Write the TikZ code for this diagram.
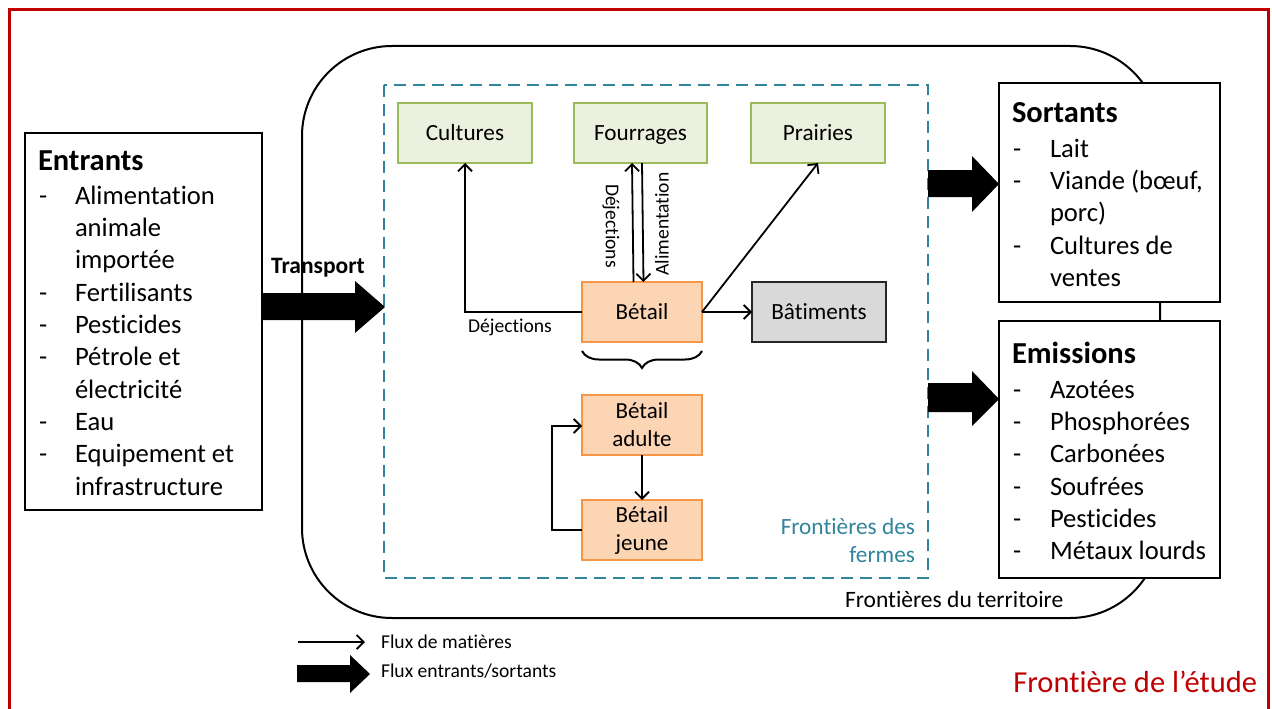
\documentclass[tikz,border=0pt]{standalone}
\usepackage{fontspec}
\setmainfont{Carlito}[Ligatures=NoCommon]
\usetikzlibrary{arrows.meta,decorations.pathreplacing}
\definecolor{framered}{HTML}{C00000}
\definecolor{farmteal}{HTML}{31849B}
\definecolor{greenfill}{HTML}{EBF1DE}
\definecolor{greenline}{HTML}{9BBB59}
\definecolor{orangefill}{HTML}{FCD5B5}
\definecolor{orangeline}{HTML}{F79646}
\definecolor{grayfill}{HTML}{D9D9D9}
\begin{document}
\begin{tikzpicture}[x=1pt,y=-1pt,
  every node/.style={inner sep=0pt, outer sep=0pt},
  oneline/.style={text height=14.6pt, text depth=0pt},
  cropbox/.style={draw=greenline, fill=greenfill, line width=1.5pt, minimum width=134pt, minimum height=60pt, oneline, font=\fontsize{23.2}{28}\selectfont},
  cattlebox/.style={draw=orangeline, fill=orangefill, line width=1.5pt, minimum width=120pt, minimum height=60pt, align=center, font=\fontsize{23}{28}\selectfont},
  bldbox/.style={draw=black!85, fill=grayfill, line width=1.5pt, minimum width=134pt, minimum height=60pt, oneline, font=\fontsize{23.2}{28}\selectfont},
  listbox/.style={draw=black, fill=white, line width=2.8pt},
  listtitle/.style={anchor=base west, font=\fontsize{30.5}{34}\selectfont\bfseries},
  listitem/.style={anchor=base west, font=\fontsize{26.6}{32}\selectfont},
  smalllabel/.style={font=\fontsize{19.6}{23}\selectfont},
  flow/.style={line width=1.8pt, -{Straight Barb[length=7pt,width=14pt,line width=1.8pt]}},
  bigarrow/.style={fill=black, draw=none}
]
\useasboundingbox (0,0) rectangle (1272,709);
% study frame
\draw[framered, line width=3pt] (9.5,9.5) rectangle (1268.5,730);
\node[anchor=base east, text=framered, font=\fontsize{30.5}{34}\selectfont] (etude) at (1257,692) {Frontière de l’étude};

% territory
\draw[line width=2pt, rounded corners=90pt] (302,46) rectangle (1160,618);
\node[anchor=base west, font=\fontsize{23.5}{27}\selectfont] (terr) at (845,607) {Frontières du territoire};

% farm boundary
\draw[farmteal, line width=2.5pt, dash pattern=on 12pt off 7pt] (384,85) rectangle (928,578);
\node[anchor=north east, align=right, text=farmteal, font=\fontsize{23.3}{28}\selectfont] (fermes) at (915,518) {Frontières des\\fermes};

% boxes
\node[cropbox] (cult) at (465,133) {Cultures};
\node[cropbox, minimum width=133pt] (four) at (640.5,133) {Fourrages};
\node[cropbox] (prai) at (818,133) {Prairies};
\node[cattlebox, oneline] (bet) at (642,312) {Bétail};
\node[bldbox] (bat) at (819,312) {Bâtiments};
\node[cattlebox] (adul) at (642,425) {Bétail\\adulte};
\node[cattlebox] (jeun) at (642,530) {Bétail\\jeune};

% brace
\draw[line width=2pt, decorate, decoration={brace, amplitude=17pt, mirror}] (582,351) -- (702,351);

% flows
\coordinate (c1) at (465,312);
\draw[flow] (bet.west) -- (c1) -- (cult.south);
\node[smalllabel, anchor=base west] (dej1) at (468,332) {Déjections};
\draw[flow] ([xshift=-8.5pt]bet.north) -- ([xshift=-8.5pt]four.south);
\draw[flow] ([xshift=1.5pt]four.south) -- ([xshift=1.5pt]bet.north);
\node[smalllabel, rotate=-90] (dej2) at (611,226) {Déjections};
\node[smalllabel, rotate=90] (alim) at (662,224) {Alimentation};
\draw[flow] (bet.east) -- (bat.west);
\draw[flow] (bet.east) -- (prai.south);
\draw[flow] (adul.south) -- (jeun.north);
\coordinate (c2) at (552,530);
\coordinate (c3) at (552,426);
\draw[flow] (jeun.west) -- (c2) -- (c3) -- (adul.west |- c3);

% Entrants
\node[listbox, minimum width=237pt, minimum height=377pt] (ent) at (143.5,321.5) {};
\node[listtitle] (entt) at (38,170) {Entrants};
\foreach \d/\t [count=\i from 0] in {-/Alimentation, /animale, /importée, -/Fertilisants, -/Pesticides, -/Pétrole et, /électricité, -/Eau, -/Equipement et, /infrastructure} {
  \node[listitem] (ent\i) at (75,{204+\i*32.35}) {\t};
  \node[listitem] (entd\i) at (39,{204+\i*32.35}) {\d};
}
% Sortants
\node[listbox, minimum width=221pt, minimum height=219pt] (sor) at (1109.5,192.5) {};
\node[listtitle] (sort) at (1012,122) {Sortants};
\foreach \d/\t [count=\i from 0] in {-/Lait, -/Viande (bœuf{,}, /porc), -/Cultures de, /ventes} {
  \node[listitem] (sor\i) at (1050,{157+\i*32.35}) {\t};
  \node[listitem] (sord\i) at (1013,{157+\i*32.35}) {\d};
}
% Emissions
\node[listbox, minimum width=221pt, minimum height=257pt] (emi) at (1109.5,449.5) {};
\node[listtitle] (emit) at (1012,363) {Emissions};
\foreach \t [count=\i from 0] in {Azotées, Phosphorées, Carbonées, Soufrées, Pesticides, Métaux lourds} {
  \node[listitem] (emi\i) at (1050,{398+\i*32.35}) {\t};
  \node[listitem] (emid\i) at (1013,{398+\i*32.35}) {-};
}

% big arrows
\draw[bigarrow] (262,293) -- (355,293) -- (355,281) -- (385,307) -- (355,333) -- (355,320) -- (262,320) -- cycle;
\node[font=\fontsize{23.5}{27}\selectfont\bfseries] (transp) at (318,268) {Transport};
\draw[bigarrow] (928,170) -- (972,170) -- (972,156) -- (999,184) -- (972,212) -- (972,197) -- (928,197) -- cycle;
\draw[bigarrow] (928,383) -- (972,383) -- (972,371) -- (999,399) -- (972,426) -- (972,412) -- (928,412) -- cycle;

% legend
\coordinate (l1a) at (298,642);
\coordinate (l1b) at (365,642);
\draw[flow, line width=1.5pt] (l1a) -- (l1b);
\node[smalllabel, anchor=base west] (leg1) at (381,648.5) {Flux de matières};
\draw[bigarrow] (297,665) -- (350,665) -- (350,655) -- (370,674) -- (350,693) -- (350,682) -- (297,682) -- cycle;
\node[smalllabel, anchor=base west] (leg2) at (381,677.5) {Flux entrants/sortants};
\end{tikzpicture}
\end{document}
